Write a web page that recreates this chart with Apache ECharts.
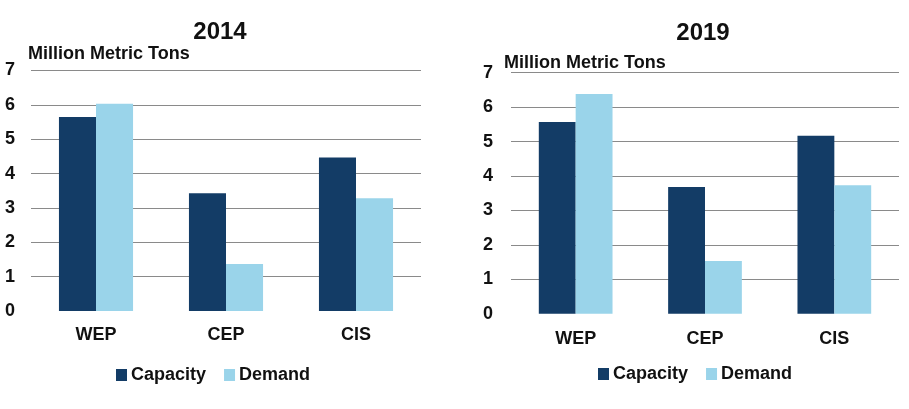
<!DOCTYPE html>
<html>
<head>
<meta charset="utf-8">
<script src="https://cdn.jsdelivr.net/npm/echarts@6/dist/echarts.min.js"></script>
<style>
html,body{margin:0;padding:0;background:#fff;}
#c{width:909px;height:409px;}
</style>
</head>
<body>
<div id="c"></div>
<script>
var categories = ['WEP', 'CEP', 'CIS'];
var capacity2014 = [5.65, 3.43, 4.47];
var demand2014 = [6.03, 1.37, 3.28];
var capacity2019 = [5.57, 3.68, 5.17];
var demand2019 = [6.38, 1.53, 3.73];
var yTicks = [0, 1, 2, 3, 4, 5, 6, 7];
var titles = ['2014', '2019'];
var unitLabel = 'Million Metric Tons';
var seriesNames = ['Capacity', 'Demand'];

var FONT = '"Liberation Sans", Arial, sans-serif';
var DARK = '#133C66';
var LIGHT = '#9AD4EA';

var chart = echarts.init(document.getElementById('c'), null, {renderer: 'canvas'});

function yAxis(idx, gap, padLeft, labelMargin) {
  return {
    type: 'value', gridIndex: idx, min: yTicks[0], max: yTicks[yTicks.length - 1], interval: 1,
    name: unitLabel, nameLocation: 'end', nameGap: gap,
    nameTextStyle: {fontFamily: FONT, fontWeight: 'bold', fontSize: 18, color: '#111', align: 'left', padding: [0, 0, 0, padLeft]},
    axisLine: {show: false}, axisTick: {show: false},
    axisLabel: {fontFamily: FONT, fontWeight: 'bold', fontSize: 18, color: '#111', margin: labelMargin},
    splitLine: {lineStyle: {color: '#8a8a8a', width: 1}}
  };
}
function xAxis(idx, margin) {
  return {
    type: 'category', gridIndex: idx, data: categories,
    axisLine: {show: true, lineStyle: {color: '#fff', width: 3}}, axisTick: {show: false},
    axisLabel: {fontFamily: FONT, fontWeight: 'bold', fontSize: 18, color: '#111', margin: margin}
  };
}
function bar(name, idx, data, color) {
  return {
    name: name, type: 'bar', xAxisIndex: idx, yAxisIndex: idx, data: data,
    barGap: '0%', barCategoryGap: '43%', itemStyle: {color: color}, z: 3
  };
}
function legend(left, top) {
  return {
    left: left, top: top, itemWidth: 11, itemHeight: 12, itemGap: 18, icon: 'rect',
    data: seriesNames,
    textStyle: {fontFamily: FONT, fontWeight: 'bold', fontSize: 18, color: '#111', padding: [0, 0, 0, -1]}
  };
}

chart.setOption({
  animation: false,
  backgroundColor: '#fff',
  title: [
    {text: titles[0], left: 215, top: 15, textAlign: 'center', textStyle: {fontFamily: FONT, fontWeight: 'bold', fontSize: 24, color: '#111'}},
    {text: titles[1], left: 698, top: 16, textAlign: 'center', textStyle: {fontFamily: FONT, fontWeight: 'bold', fontSize: 24, color: '#111'}}
  ],
  legend: [legend(111, 361), legend(593, 360)],
  grid: [
    {left: 31, right: 488, top: 70.5, bottom: 98},
    {left: 511, right: 10, top: 72.7, bottom: 95.3}
  ],
  xAxis: [xAxis(0, 15), xAxis(1, 16)],
  yAxis: [yAxis(0, 7, -3, 16), yAxis(1, 1, -7, 18)],
  series: [
    bar(seriesNames[0], 0, capacity2014, DARK),
    bar(seriesNames[1], 0, demand2014, LIGHT),
    bar(seriesNames[0], 1, capacity2019, DARK),
    bar(seriesNames[1], 1, demand2019, LIGHT)
  ]
});
</script>
</body>
</html>
